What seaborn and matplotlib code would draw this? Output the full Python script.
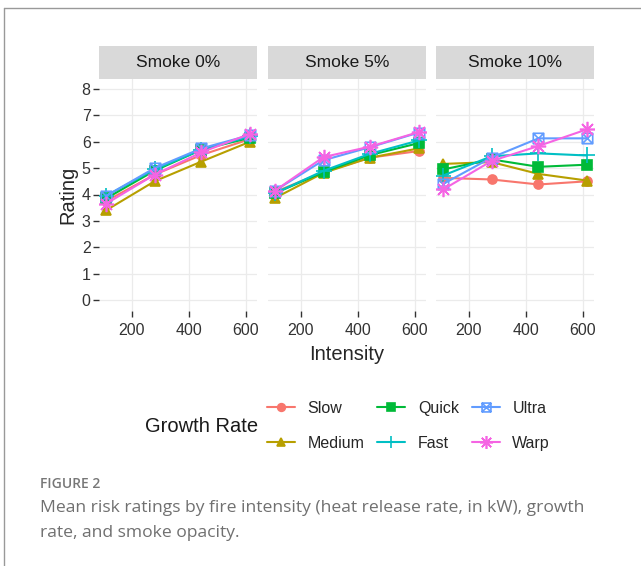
import numpy as np
import pandas as pd
import matplotlib.pyplot as plt
import seaborn as sns
from matplotlib.lines import Line2D
from matplotlib.patches import Rectangle
from matplotlib.path import Path

# data
intensity = [110, 280, 445, 615]
smoke_levels = ["Smoke 0%", "Smoke 5%", "Smoke 10%"]
growth_rates = ["Slow", "Medium", "Quick", "Fast", "Ultra", "Warp"]

ratings = {
    "Smoke 0%": {
        "Slow": [3.75, 4.75, 5.50, 6.10],
        "Medium": [3.40, 4.50, 5.25, 6.00],
        "Quick": [3.85, 4.90, 5.70, 6.15],
        "Fast": [3.95, 4.95, 5.70, 6.20],
        "Ultra": [3.95, 5.00, 5.75, 6.25],
        "Warp": [3.65, 4.75, 5.60, 6.30],
    },
    "Smoke 5%": {
        "Slow": [4.10, 4.85, 5.40, 5.65],
        "Medium": [3.87, 4.82, 5.40, 5.75],
        "Quick": [4.05, 4.85, 5.50, 5.95],
        "Fast": [4.05, 4.90, 5.55, 6.05],
        "Ultra": [4.15, 5.30, 5.80, 6.35],
        "Warp": [4.15, 5.42, 5.82, 6.37],
    },
    "Smoke 10%": {
        "Slow": [4.63, 4.57, 4.38, 4.50],
        "Medium": [5.16, 5.23, 4.78, 4.53],
        "Quick": [4.95, 5.33, 5.05, 5.13],
        "Fast": [4.72, 5.45, 5.56, 5.48],
        "Ultra": [4.40, 5.40, 6.13, 6.13],
        "Warp": [4.19, 5.27, 5.84, 6.47],
    },
}

rows = []
for s in smoke_levels:
    for g in growth_rates:
        for x, y in zip(intensity, ratings[s][g]):
            rows.append({"Smoke": s, "Growth Rate": g, "Intensity": x, "Rating": y})
df = pd.DataFrame(rows)

colors = ["#F8766D", "#B79F00", "#00BA38", "#00BFC4", "#619CFF", "#F564E3"]

# boxed cross marker (ggplot shape 7)
box_x = Path(
    [(-1, -1), (1, -1), (1, 1), (-1, 1), (-1, -1), (-1, -1), (1, 1), (-1, 1), (1, -1)],
    [Path.MOVETO, Path.LINETO, Path.LINETO, Path.LINETO, Path.CLOSEPOLY,
     Path.MOVETO, Path.LINETO, Path.MOVETO, Path.LINETO],
)
markers = ["o", "^", "s", "+", box_x, (8, 2, 0)]
msizes = [6.5, 7.5, 6.5, 11, 7.5, 11]
filled = [True, True, True, False, False, False]

sns.set_style("white")
plt.rcParams["font.family"] = ["Liberation Sans", "DejaVu Sans"]

fig = plt.figure(figsize=(6.41, 5.66), dpi=100)

lefts = [99, 268, 436]
ax_w = 158 / 641
ax_b = 1 - 310.5 / 566
ax_h = 232 / 566

for i, s in enumerate(smoke_levels):
    ax = fig.add_axes([lefts[i] / 641, ax_b, ax_w, ax_h])
    ax.set_facecolor("white")
    sub = df[df["Smoke"] == s]
    for g, c, m, ms, f in zip(growth_rates, colors, markers, msizes, filled):
        d = sub[sub["Growth Rate"] == g]
        sns.lineplot(data=d, x="Intensity", y="Rating", color=c, marker=m,
                     markersize=ms, mec=c, mfc=c if f else "none",
                     mew=1.2, lw=1.5, ax=ax, legend=False)
    ax.set_xlim(85, 640)
    ax.set_ylim(-0.4, 8.4)
    ax.set_xticks([200, 400, 600])
    ax.set_yticks(range(0, 9))
    ax.grid(True, color="#EBEBEB", lw=0.9)
    ax.set_axisbelow(True)
    for sp in ax.spines.values():
        sp.set_visible(False)
    ax.tick_params(axis="both", length=4, width=1, color="#333333",
                   labelcolor="#333333", labelsize=11.5, pad=2, direction="out")
    ax.tick_params(axis="x", bottom=True, pad=5)
    if i == 0:
        ax.tick_params(axis="y", left=True)
        ax.set_ylabel("Rating", fontsize=14.5, labelpad=3)
    else:
        ax.tick_params(axis="y", left=False, labelleft=False)
        ax.set_ylabel("")
    if i == 1:
        ax.set_xlabel("Intensity", fontsize=14.5, labelpad=5)
    else:
        ax.set_xlabel("")
    strip_h = 32 / 232
    ax.add_patch(Rectangle((0, 1), 1, strip_h, transform=ax.transAxes,
                           facecolor="#D9D9D9", edgecolor="none", clip_on=False))
    ax.text(0.5, 1 + strip_h / 2, s, transform=ax.transAxes, ha="center",
            va="center", fontsize=12.5, color="#1A1A1A")

# legend
handles = [Line2D([], [], color=c, marker=m, markersize=ms * 0.85, mec=c,
                  mfc=c if f else "none", mew=1.2, lw=1.5)
           for c, m, ms, f in zip(colors, markers, msizes, filled)]
fig.legend(handles, growth_rates, loc="center left",
           bbox_to_anchor=(262 / 641, 1 - 426 / 566), ncol=3, frameon=False,
           fontsize=11.5, handlelength=1.75, columnspacing=0.8,
           labelspacing=1.25, handletextpad=0.8, borderaxespad=0, borderpad=0.3)
fig.text(145 / 641, 1 - 426 / 566, "Growth Rate", fontsize=14.5,
         va="center", ha="left", color="#1A1A1A")

# caption
cap_font = ["Open Sans", "DejaVu Sans"]
fig.text(40 / 641, 1 - 484 / 566, "FIGURE 2", fontsize=10, color="#777777",
         va="center", family=cap_font, fontweight="semibold")
fig.text(40 / 641, 1 - 508 / 566,
         "Mean risk ratings by fire intensity (heat release rate, in kW), growth",
         fontsize=12.6, color="#707070", va="center", family=cap_font)
fig.text(40 / 641, 1 - 533 / 566, "rate, and smoke opacity.",
         fontsize=12.6, color="#707070", va="center", family=cap_font)

# frame lines
fig.add_artist(Line2D([4 / 641, 4 / 641], [0, 1 - 8 / 566], color="#999999",
                      lw=1, transform=fig.transFigure))
fig.add_artist(Line2D([4 / 641, 1], [1 - 8 / 566, 1 - 8 / 566], color="#999999",
                      lw=1, transform=fig.transFigure))

fig.savefig("out.png", dpi=100, facecolor="white")
